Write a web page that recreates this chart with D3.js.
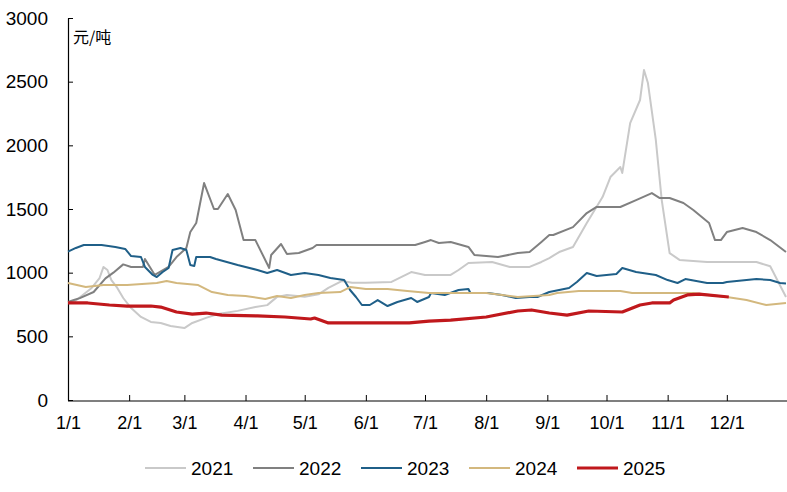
<!DOCTYPE html>
<html>
<head>
<meta charset="utf-8">
<script src="https://cdn.jsdelivr.net/npm/d3@7/dist/d3.min.js"></script>
<style>
  body { margin: 0; background: #fff; }
  text { font-family: "Liberation Sans", Arial, sans-serif; }
</style>
</head>
<body>
<div id="chart"></div>
<script>
// 各年份价格 (元/吨)，日期 MM-DD
const dates2021 = ['01-01','01-04','01-13','01-17','01-19','01-21','01-23','01-26','01-29','02-02','02-07','02-12','02-17','02-22','03-01','03-05','03-12','03-18','03-28','04-06','04-12','04-17','04-22','05-01','05-08','05-13','05-20','05-25','06-01','06-14','06-24','07-01','07-14','07-18','07-23','08-04','08-13','08-23','08-29','09-02','09-07','09-14','09-21','09-29','10-03','10-08','10-09','10-13','10-18','10-20','10-22','10-26','10-29','11-02','11-07','11-21','12-16','12-23','12-31']
const prices2021 = [770,770,880,958,1045,1021,942,880,801,722,652,613,605,581,565,605,645,675,700,730,745,810,825,810,830,880,935,920,920,927,1005,982,982,1021,1076,1084,1045,1045,1084,1115,1162,1202,1390,1594,1751,1830,1783,2175,2356,2591,2489,2042,1570,1154,1100,1084,1084,1050,809]

const dates2022 = ['01-01','01-04','01-07','01-14','01-20','01-24','01-29','02-02','02-08','02-09','02-14','02-21','02-25','03-02','03-04','03-07','03-11','03-16','03-18','03-23','03-27','03-31','04-06','04-13','04-14','04-19','04-22','04-28','05-05','05-07','06-26','07-01','07-04','07-08','07-14','07-23','07-26','08-07','08-17','08-23','08-29','09-02','09-04','09-14','09-21','09-26','10-08','10-16','10-24','10-28','11-02','11-09','11-14','11-22','11-25','11-28','12-01','12-09','12-16','12-23','12-31']
const prices2022 = [770,785,800,848,955,1000,1065,1045,1045,1107,982,1045,1123,1194,1319,1390,1704,1500,1500,1618,1492,1256,1256,1037,1139,1225,1147,1154,1194,1217,1217,1241,1256,1233,1241,1202,1139,1123,1154,1162,1241,1296,1296,1358,1468,1516,1516,1570,1625,1586,1586,1547,1492,1390,1256,1256,1319,1351,1319,1256,1162]

const dates2023 = ['01-01','01-05','01-09','01-18','01-25','01-30','02-02','02-07','02-09','02-13','02-15','02-18','02-21','02-23','02-27','03-02','03-04','03-06','03-07','03-14','03-17','03-28','04-07','04-12','04-17','04-24','05-01','05-08','05-14','05-21','05-24','05-27','05-30','06-03','06-07','06-12','06-17','06-24','06-27','07-03','07-04','07-11','07-18','07-23','07-24','08-02','08-09','08-16','08-23','08-27','09-02','09-12','09-16','09-21','09-26','10-06','10-09','10-16','10-26','11-01','11-06','11-10','11-21','11-29','12-01','12-16','12-23','12-28','12-31']
const prices2023 = [1165,1194,1217,1217,1202,1186,1130,1123,1045,982,966,1005,1037,1178,1194,1178,1060,1052,1123,1123,1107,1060,1021,997,1021,982,997,982,958,942,864,809,746,746,785,738,770,801,770,809,840,825,864,872,840,840,825,801,809,809,848,880,927,997,974,990,1037,1005,982,942,919,950,919,919,927,950,942,919,915]

const dates2024 = ['01-01','01-10','01-19','01-31','02-15','02-20','02-25','03-08','03-15','03-23','04-01','04-11','04-17','04-24','05-01','05-08','05-19','05-24','06-01','06-12','06-22','07-03','07-14','08-01','08-17','09-02','09-06','09-17','10-08','10-14','11-02','11-14','12-01','12-11','12-21','12-31']
const prices2024 = [919,887,903,903,919,935,919,903,848,825,817,793,817,801,825,840,848,887,872,872,856,840,840,840,809,825,840,856,856,840,840,840,809,785,746,762]

const dates2025 = ['01-01','01-11','01-22','01-31','02-12','02-17','02-25','03-05','03-12','03-20','04-07','04-21','05-04','05-06','05-13','06-01','06-23','07-03','07-14','08-01','08-17','08-24','09-02','09-11','09-22','10-09','10-18','10-24','11-02','11-04','11-11','11-17','12-02']
const prices2025 = [762,762,746,738,738,730,691,675,683,667,660,652,636,644,605,605,605,620,628,652,699,707,683,667,699,691,746,762,762,785,825,832,809]

const years = ['2021', '2022', '2023', '2024', '2025']
const yTicks = [0, 500, 1000, 1500, 2000, 2500, 3000]
const monthTicks = ['01-01','02-01','03-01','04-01','05-01','06-01','07-01','08-01','09-01','10-01','11-01','12-01']

const W = 787, H = 492
const mLeft = 68, mRight = 786, mTop = 18, mBottom = 401

const parse = d3.timeParse('%Y-%m-%d')
const toDate = s => parse('2021-' + s)

const seriesData = [
  { name: years[0], dates: dates2021, values: prices2021, color: '#c9c9c9', w: 2 },
  { name: years[1], dates: dates2022, values: prices2022, color: '#808080', w: 2 },
  { name: years[2], dates: dates2023, values: prices2023, color: '#1f5f88', w: 2 },
  { name: years[3], dates: dates2024, values: prices2024, color: '#d3b87e', w: 2 },
  { name: years[4], dates: dates2025, values: prices2025, color: '#c0181c', w: 3.2 }
]

const x = d3.scaleTime()
  .domain([toDate('01-01'), toDate('12-31')])
  .range([mLeft, mRight])
const y = d3.scaleLinear()
  .domain([0, 3000])
  .range([mBottom - 1, mTop])

const svg = d3.select('#chart')
  .append('svg')
  .attr('width', W)
  .attr('height', H)

// 坐标轴
const yAxis = d3.axisLeft(y)
  .tickValues(yTicks)
  .tickFormat(d3.format('d'))
  .tickSize(-5)
  .tickSizeOuter(0)
  .tickPadding(20)
svg.append('g')
  .attr('transform', 'translate(' + mLeft + ',0)')
  .call(yAxis)
  .call(g => g.selectAll('text').attr('font-size', 19).attr('fill', '#000'))
  .call(g => g.select('.domain').attr('stroke', '#000').attr('stroke-width', 1.2))

const xAxis = d3.axisBottom(x)
  .tickValues(monthTicks.map(toDate))
  .tickFormat(d3.timeFormat('%-m/%-d'))
  .tickSize(-6)
  .tickSizeOuter(0)
  .tickPadding(15)
svg.append('g')
  .attr('transform', 'translate(0,' + mBottom + ')')
  .call(xAxis)
  .call(g => g.selectAll('text').attr('font-size', 18).attr('fill', '#000'))
  .call(g => g.select('.domain').attr('d', 'M' + mLeft + ',0H' + W).attr('stroke', '#000').attr('stroke-width', 1.2))

// 单位
svg.append('text')
  .attr('x', 73)
  .attr('y', 43)
  .attr('font-size', 16)
  .style('font-family', '"Noto Sans CJK SC", sans-serif')
  .text('元/吨')

// 折线
const line = d3.line()
  .x(d => x(d[0]))
  .y(d => y(d[1]))

seriesData.forEach(s => {
  const pts = s.dates.map((d, i) => [toDate(d), s.values[i]])
  svg.append('path')
    .datum(pts)
    .attr('d', line)
    .attr('fill', 'none')
    .attr('stroke', s.color)
    .attr('stroke-width', s.w)
    .attr('stroke-linejoin', 'round')
})

// 图例
const legend = svg.append('g').attr('transform', 'translate(145,468)')
seriesData.forEach((s, i) => {
  const g = legend.append('g').attr('transform', 'translate(' + (i * 108) + ',0)')
  g.append('line')
    .attr('x1', 0).attr('x2', 41)
    .attr('y1', 0).attr('y2', 0)
    .attr('stroke', s.color)
    .attr('stroke-width', s.w)
  g.append('text')
    .attr('x', 46)
    .attr('y', 7)
    .attr('font-size', 19)
    .text(s.name)
})
</script>
</body>
</html>
